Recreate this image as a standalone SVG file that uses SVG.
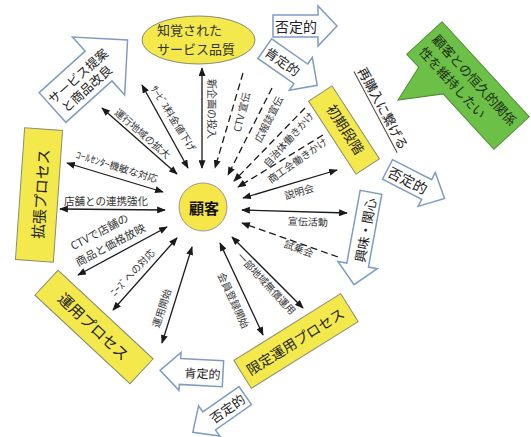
<svg xmlns="http://www.w3.org/2000/svg" width="531" height="437" viewBox="0 0 531 437">
<defs>
<style>
text{font-family:"Noto Sans CJK JP","Noto Sans CJK SC",sans-serif;fill:#333;text-anchor:middle;dominant-baseline:central}
.s{stroke:#1a1a1a;stroke-width:1.3;fill:none;marker-start:url(#ah);marker-end:url(#ah)}
.d{stroke:#1a1a1a;stroke-width:1.3;fill:none;stroke-dasharray:7 4;marker-end:url(#ah)}
.lb{font-size:10px}
.yb{fill:#f4e94c;stroke:#8a8a70;stroke-width:1}
.ab{fill:#fff;stroke:#7f9cc4;stroke-width:1.5;stroke-linejoin:miter}
.at{font-size:14px;fill:#222}
.bt{font-size:15px;fill:#222}
</style>
<marker id="ah" viewBox="0 0 10 8" refX="9" refY="4" markerWidth="9" markerHeight="7" markerUnits="userSpaceOnUse" orient="auto-start-reverse">
<path d="M0,0 L10,4 L0,8 z" fill="#1a1a1a"/>
</marker>
</defs>
<rect width="531" height="437" fill="#fff"/>

<g id="connectors">
<line class="s" x1="202" y1="68" x2="202" y2="168"/>
<text class="lb" transform="translate(212,109) rotate(90)">新企画の投入</text>
<line class="d" x1="243" y1="73" x2="215" y2="168"/>
<text class="lb" transform="translate(241,112) rotate(-76)">CTV 宣伝</text>
<line class="d" x1="272" y1="88" x2="228" y2="175"/>
<text class="lb" transform="translate(268,119) rotate(-63)">広報誌宣伝</text>
<line class="d" x1="305" y1="108" x2="234" y2="181"/>
<text class="lb" transform="translate(288,139) rotate(-48)">自治体働きかけ</text>
<line class="d" x1="323" y1="135" x2="238" y2="187"/>
<text class="lb" transform="translate(297,160) rotate(-35)">商工会働きかけ</text>
<line class="s" x1="337" y1="170" x2="243" y2="198"/>
<text class="lb" transform="translate(299,191) rotate(-16)">説明会</text>
<line class="s" x1="347" y1="213" x2="242" y2="210"/>
<text class="lb" transform="translate(308,221) rotate(2)">宣伝活動</text>
<line class="d" x1="338" y1="257" x2="242" y2="223"/>
<text class="lb" transform="translate(299,248) rotate(20)">試乗会</text>
<line class="s" x1="303" y1="308" x2="232" y2="237"/>
<text class="lb" transform="translate(267,283) rotate(47)">一部地域無償運用</text>
<line class="s" x1="263" y1="335" x2="220" y2="243"/>
<text class="lb" transform="translate(234,300) rotate(65)">会員登録開始</text>
<line class="s" x1="162" y1="343" x2="192" y2="247"/>
<text class="lb" transform="translate(161,308) rotate(-72)">運用開始</text>
<line class="s" x1="113" y1="310" x2="177" y2="238"/>
<text class="lb" transform="translate(132,272) rotate(-47)">ﾆｰｽﾞへの対応</text>
<line class="s" x1="78" y1="275" x2="167" y2="227"/>
<text class="lb" style="font-size:11px" transform="translate(99,231) rotate(-28)">CTVで店舗の</text>
<text class="lb" style="font-size:11px" transform="translate(110,244) rotate(-28)">商品と価格放映</text>
<line class="s" x1="60" y1="209" x2="165" y2="210"/>
<text class="lb" style="font-size:10.5px" x="106" y="200">店舗との連携強化</text>
<line class="s" x1="67" y1="163" x2="163" y2="192"/>
<text class="lb" transform="translate(117,166) rotate(17)">ｺｰﾙｾﾝﾀｰ機敏な対応</text>
<line class="s" x1="102" y1="108" x2="177" y2="174"/>
<text class="lb" transform="translate(143,133) rotate(41)">運行地域の拡大</text>
<line class="s" x1="142" y1="85" x2="188" y2="168"/>
<text class="lb" transform="translate(174,118) rotate(58)">ｻｰﾋﾞｽ料金値下げ</text>
</g>

<g id="customer">
<circle cx="203" cy="207" r="24" fill="#f6e64a" stroke="#999" stroke-width="1"/>
<text x="204" y="207" style="font-size:15px;font-weight:bold;fill:#111">顧客</text>
</g>

<g id="quality">
<ellipse cx="198.5" cy="40" rx="56.5" ry="24" fill="#f4e94c" stroke="#8a8a70" stroke-width="1"/>
<text x="157" y="29" style="font-size:13px;text-anchor:start">知覚された</text>
<text x="157" y="48" style="font-size:13px;text-anchor:start">サービス品質</text>
</g>

<g id="expansion">
<rect class="yb" x="-19" y="-66" width="38" height="132" transform="translate(39,195) rotate(4)"/>
<text class="bt" transform="translate(40,194) rotate(-86)">拡張プロセス</text>
</g>

<g id="operation">
<rect class="yb" x="-65" y="-17" width="130" height="34" transform="translate(94,327) rotate(43)"/>
<text class="bt" transform="translate(94,326) rotate(43)">運用プロセス</text>
</g>

<g id="limited">
<rect class="yb" x="-63" y="-16.5" width="126" height="33" transform="translate(296,341) rotate(-32)"/>
<text class="at" transform="translate(295,341) rotate(-32)">限定運用プロセス</text>
</g>

<g id="initial">
<rect class="yb" x="-14" y="-43.5" width="28" height="87" transform="translate(344,130) rotate(-33)"/>
<text class="at" transform="translate(346,129) rotate(57)">初期段階</text>
</g>

<g id="repurchase">
<g transform="translate(383.5,108) rotate(62)">
<text style="font-size:13px;fill:#222">再購入に繋げる</text>
<line x1="-46" y1="9" x2="46" y2="9" stroke="#444" stroke-width="1"/>
</g>
</g>

<g id="callout">
<g transform="translate(468,85.5) rotate(47.5)">
<polygon points="-64.5,-24 64.5,-24 64.5,24 -10.6,24 -36.6,61.4 -46.7,24 -64.5,24" fill="#6cbf47" stroke="#4f8f33" stroke-width="1"/>
<text x="-58" y="-9" style="font-size:13px;text-anchor:start;fill:#1c2e14">顧客との恒久的関係</text>
<text x="-58" y="9" style="font-size:13px;text-anchor:start;fill:#1c2e14">性を維持したい</text>
</g>
</g>

<g id="arrow-service">
<g transform="translate(52.5,107.5) rotate(-42)">
<polygon class="ab" points="0,-20 62,-20 62,-39 101,0 62,39 62,20 0,20"/>
<text x="40" y="-7" style="font-size:12.5px;fill:#222">サービス提案</text>
<text x="38" y="8" style="font-size:12.5px;fill:#222">と商品改良</text>
</g>
</g>

<g id="arrow-negative-top">
<polygon class="ab" points="273,15 318,15 318,6 337,26 318,46 318,37 273,37"/>
<text class="at" x="296" y="26">否定的</text>
</g>

<g id="arrow-positive-top">
<g transform="translate(291,67) rotate(35)">
<polygon class="ab" points="-32,-12 12,-12 12,-20 32,0 12,20 12,12 -32,12"/>
<text class="at" style="font-size:13px" x="-10" y="0">肯定的</text>
</g>
</g>

<g id="arrow-negative-right">
<g transform="translate(416,184) rotate(27)">
<polygon class="ab" points="-32,-11 12,-11 12,-19 32,0 12,19 12,11 -32,11"/>
<text class="at" x="-9" y="0">否定的</text>
</g>
</g>

<g id="arrow-interest">
<g transform="translate(362.5,238.5) rotate(100.4)">
<polygon class="ab" points="-47,-11 27,-11 27,-20 47,0 27,20 27,11 -47,11"/>
</g>
<text class="at" style="font-size:13px" transform="translate(365,230) rotate(-79.6)">興味・関心</text>
</g>

<g id="arrow-positive-bottom">
<g transform="translate(191.5,372) rotate(3)">
<polygon class="ab" points="31.5,-13 -11.5,-13 -11.5,-19 -31.5,0 -11.5,19 -11.5,13 31.5,13"/>
<text class="at" style="font-size:12px" x="11" y="0">肯定的</text>
</g>
</g>

<g id="arrow-negative-bottom">
<g transform="translate(219,414) rotate(-35)">
<polygon class="ab" points="32,-11 -12,-11 -12,-18.5 -32,0 -12,18.5 -12,11 32,11"/>
<text class="at" style="font-size:13px" x="10" y="0">否定的</text>
</g>
</g>
</svg>
